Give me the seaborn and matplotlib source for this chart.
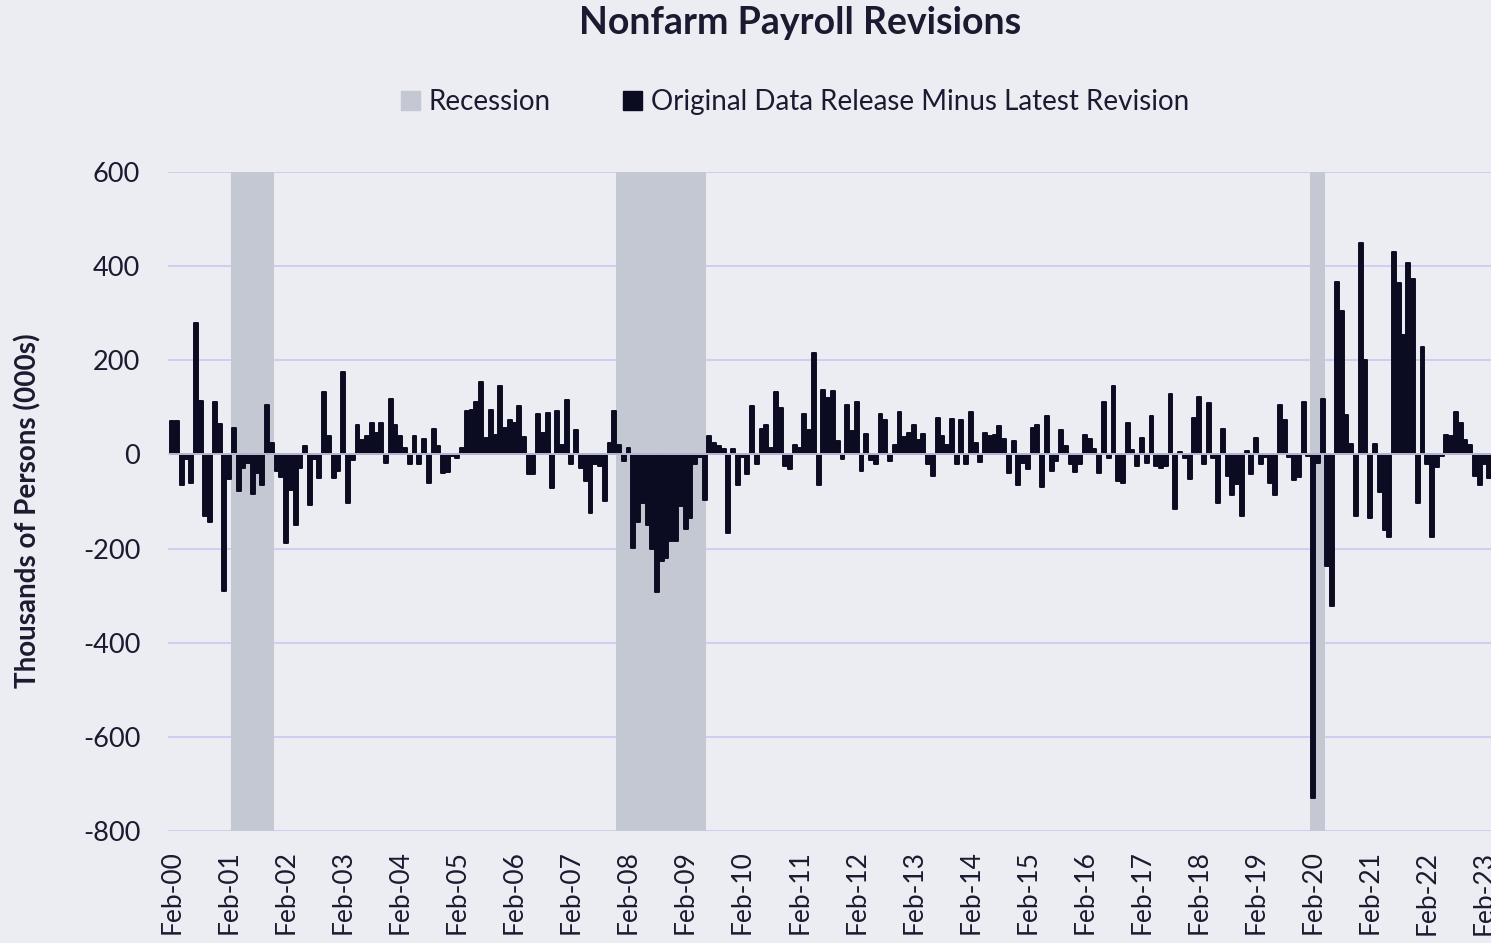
import pandas as pd
import seaborn as sns
import matplotlib.pyplot as plt
from matplotlib.patches import Patch

# Original data release minus latest revision, thousands of persons, monthly from Feb-00
revision = [
    72, 72, -64, -10, -60, 279, 113, -130, -144, 111, 64, -291, -52, 57, -78, -28, -18, -85, -39, -64, 105, 25, -35,
    -47, -188, -75, -149, -28, 18, -108, -10, -50, 133, 40, -50, -35, 176, -104, -12, 62, 30, 40, 67, 46, 66, -18,
    117, 63, 40, 14, -21, 40, -21, 32, -60, 54, 18, -39, -37, -3, -8, 14, 92, 95, 112, 153, 35, 95, 42,
    145, 57, 74, 67, 103, 37, -42, -42, 85, 46, 88, -71, 92, 21, 115, -21, 51, -28, -57, -124, -20, -25, -99,
    25, 92, 21, -14, 14, -198, -144, -103, -149, -201, -293, -226, -219, -184, -184, -110, -158, -134, -20, -5, -96, 39, 25,
    18, 12, -166, 12, -64, -5, -42, 103, -21, 53, 62, 14, 133, 99, -25, -32, 21, 14, 86, 52, 216, -64, 137,
    120, 135, 28, -10, 106, 50, 111, -35, 43, -11, -21, 85, 73, -14, 21, 91, 37, 46, 62, 30, 44, -21, -45,
    78, 39, 21, 76, -21, 74, -21, 91, 25, -16, 46, 40, 42, 60, 32, -39, 28, -64, -18, -32, 57, 62, -69,
    82, -35, -14, 52, 18, -21, -37, -21, 42, 33, 11, -39, 111, -7, 145, -57, -60, 66, 9, -25, 34, -18, 82, -25,
    -28, -25, 128, -116, 5, -7, -53, 78, 122, -21, 110, -7, -104, 53, -46, -87, -62, -131, 7, -42, 34, -21, -5,
    -60, -87, 106, 74, -5, -54, -47, 112, -3, -729, -18, 118, -237, -322, 366, 304, 84, 22, -131, 449, 200, -135, 22,
    -80, -161, -175, 429, 365, 254, 406, 372, -104, 228, -21, -175, -27, -3, 42, 40, 91, 66, 30, 20, -46, -65, -21, -50,
]
start_month = "2000-02"
recession_start = ["2001-03", "2007-12", "2020-02"]
recession_end = ["2001-11", "2009-06", "2020-04"]

months = pd.date_range(start_month, periods=len(revision), freq="MS")
df = pd.DataFrame({"month": months.strftime("%b-%y"), "revision": revision})

bg = "#ecedf2"
ink = "#1a1a30"
bar_color = "#0b0b22"
rec_color = "#c4c8d2"

sns.set_theme(style="whitegrid", rc={
    "axes.facecolor": bg, "figure.facecolor": bg,
    "grid.color": "#cbcbf0", "grid.linewidth": 1.3,
    "axes.edgecolor": bg,
})
plt.rcParams["font.family"] = ["Lato", "DejaVu Sans"]
plt.rcParams["axes.unicode_minus"] = False

fig = plt.figure(figsize=(14.91, 9.43), dpi=100)
ax = fig.add_axes([168 / 1491, 112 / 943, 1 - 168 / 1491, 659 / 943])
ax.set_axisbelow(True)


def month_pos(s):
    return (pd.Period(s, "M") - pd.Period(start_month, "M")).n


for s, e in zip(recession_start, recession_end):
    ax.axvspan(month_pos(s) - 0.7, month_pos(e) + 0.4, color=rec_color, lw=0, zorder=0.8)

sns.barplot(data=df, x="month", y="revision", color=bar_color, saturation=1,
            width=0.82, linewidth=0, ax=ax, zorder=2)
# rounded ends like the original
for bar in ax.containers[0]:
    bar.set_edgecolor(bar_color)
    bar.set_linewidth(1.4)
    bar.set_joinstyle("round")
ax.axhline(0, color="#d6d6f5", lw=1.2, zorder=3)

ax.grid(axis="x", visible=False)
ax.set_ylim(-800, 600)
ax.set_yticks(range(-800, 601, 200))
ax.set_xticks(range(0, len(df), 12))
ax.set_xticklabels(df["month"][::12], rotation=90)
ax.set_xlim(-0.85, 277.4)
ax.set_xlabel("")
ax.set_ylabel("")
ax.tick_params(axis="y", labelsize=19.5, pad=20, length=0, labelcolor=ink)
ax.tick_params(axis="x", labelsize=19, pad=14, length=0, labelcolor=ink)
for sp in ax.spines.values():
    sp.set_visible(False)

fig.text(28 / 1491, 1 - 511 / 943, "Thousands of Persons (000s)", rotation=90,
         ha="center", va="center", fontsize=20, fontweight="bold", color=ink)
fig.text(800 / 1491, 1 - 23 / 943, "Nonfarm Payroll Revisions",
         ha="center", va="center", fontsize=27, fontweight="bold", color=ink)

handles = [Patch(color=rec_color, label="Recession"),
           Patch(color=bar_color, label="Original Data Release Minus Latest Revision")]
fig.legend(handles=handles, loc="center", bbox_to_anchor=(795 / 1491, 1 - 102 / 943),
           ncol=2, frameon=False, fontsize=20, handlelength=0.7, handleheight=0.7,
           handletextpad=0.3, columnspacing=2.6, labelcolor=ink)

fig.savefig("out.png", dpi=100, facecolor=bg)
